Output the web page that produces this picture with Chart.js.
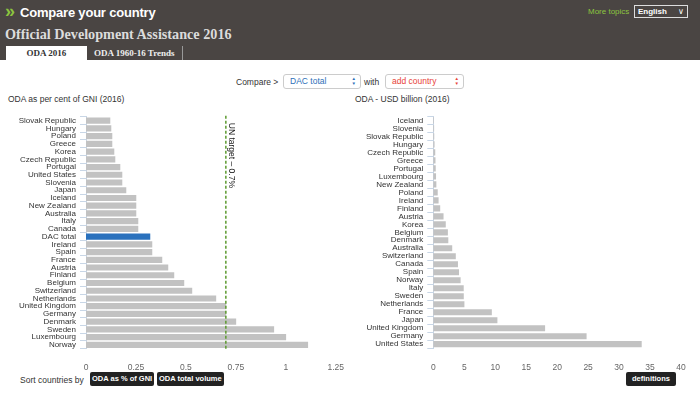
<!DOCTYPE html>
<html>
<head>
<meta charset="utf-8">
<script src="https://cdn.jsdelivr.net/npm/chart.js@4.4.0/dist/chart.umd.min.js"></script>
<style>
body { margin:0; width:700px; height:396px; position:relative; overflow:hidden; background:#fff; font-family:"Liberation Sans", Arial, sans-serif; }
.abs { position:absolute; }
#header { left:0; top:0; width:700px; height:60px; background:#4a4543; }
#logo { left:5px; top:1px; color:#8cc43f; font-weight:bold; font-size:18px; letter-spacing:-3px; }
#brand { left:20px; top:5px; color:#fff; font-weight:bold; font-size:13px; letter-spacing:-0.2px; }
#more { left:588px; top:7px; color:#8cc43f; font-size:8px; }
#lang { left:634px; top:5px; width:54px; height:13px; border:1px solid #ddd; color:#fff; font-size:8px; font-weight:bold; line-height:11px; padding-left:3px; box-sizing:border-box; }
#lang span { position:absolute; right:3px; top:0; font-weight:normal; }
#title { left:5px; top:26px; color:#dcdcdc; font-family:"Liberation Serif", serif; font-weight:bold; font-size:14.2px; }
#tab1 { left:6px; top:46px; width:81px; height:14px; background:#fff; color:#333; font-family:"Liberation Serif", serif; font-weight:bold; font-size:9px; text-align:center; line-height:15px; }
#tab2 { left:94px; top:46px; color:#eee; font-family:"Liberation Serif", serif; font-weight:bold; font-size:9px; line-height:15px; }
#sep { left:182px; top:46px; width:1px; height:14px; background:#999; }
.lbl { font-size:8.5px; color:#333; }
.sel { height:15px; border:1px solid #ccc; border-radius:3px; font-size:8.5px; line-height:13px; padding-left:6px; box-sizing:border-box; background:#fff; }
.sel i { position:absolute; right:4px; top:2px; font-style:normal; font-size:4.5px; line-height:4.5px; }
.btn { background:#222; color:#fff; font-weight:bold; font-size:7.5px; height:14px; line-height:14px; padding:0 2px; border-radius:2px; }
canvas { position:absolute; }
</style>
</head>
<body>
<div id="header" class="abs"></div>
<div id="logo" class="abs">&#187;</div>
<div id="brand" class="abs">Compare your country</div>
<div id="more" class="abs">More topics</div>
<div id="lang" class="abs">English<span>&#8744;</span></div>
<div id="title" class="abs">Official Development Assistance 2016</div>
<div id="tab1" class="abs">ODA 2016</div>
<div id="tab2" class="abs">ODA 1960-16 Trends</div>
<div id="sep" class="abs"></div>

<div class="abs lbl" style="left:236px;top:77px;">Compare &gt;</div>
<div class="abs sel" style="left:283px;top:74px;width:78px;color:#2d6fb8;">DAC total<i style="color:#2d6fb8">&#9650;<br>&#9660;</i></div>
<div class="abs lbl" style="left:364px;top:77px;">with</div>
<div class="abs sel" style="left:385px;top:74px;width:79px;color:#e8443a;">add country<i style="color:#e8443a">&#9650;<br>&#9660;</i></div>

<div class="abs lbl" style="left:8px;top:94px;">ODA as per cent of GNI (2016)</div>
<div class="abs lbl" style="left:355px;top:94px;">ODA - USD billion (2016)</div>

<canvas id="gniChart" width="350" height="265" style="left:0;top:105px;"></canvas>
<canvas id="volChart" width="350" height="265" style="left:350px;top:105px;"></canvas>

<div class="abs lbl" style="left:20px;top:375px;">Sort countries by</div>
<div class="abs btn" style="left:90px;top:372px;">ODA as % of GNI</div>
<div class="abs btn" style="left:157px;top:372px;">ODA total volume</div>
<div class="abs btn" style="left:626px;top:372px;padding:0 6px;">definitions</div>

<script>
// ODA as % of GNI, sorted ascending
const gniCountries = ['Slovak Republic', 'Hungary', 'Poland', 'Greece', 'Korea', 'Czech Republic', 'Portugal',
    'United States', 'Slovenia', 'Japan', 'Iceland', 'New Zealand', 'Australia', 'Italy', 'Canada', 'DAC total',
    'Ireland', 'Spain', 'France', 'Austria', 'Finland', 'Belgium', 'Switzerland', 'Netherlands', 'United Kingdom',
    'Germany', 'Denmark', 'Sweden', 'Luxembourg', 'Norway'];
const gniValues = [0.12, 0.125, 0.13, 0.13, 0.14, 0.145, 0.17, 0.18, 0.18, 0.20, 0.25, 0.25, 0.25, 0.26, 0.26, 0.32,
    0.33, 0.33, 0.38, 0.41, 0.44, 0.49, 0.53, 0.65, 0.70, 0.70, 0.75, 0.94, 1.00, 1.11];
const gniTicks = [0, 0.25, 0.5, 0.75, 1, 1.25];
const unTarget = 0.7;

// ODA volume in USD billion, sorted ascending
const volCountries = ['Iceland', 'Slovenia', 'Slovak Republic', 'Hungary', 'Czech Republic', 'Greece', 'Portugal',
    'Luxembourg', 'New Zealand', 'Poland', 'Ireland', 'Finland', 'Austria', 'Korea', 'Belgium', 'Denmark',
    'Australia', 'Switzerland', 'Canada', 'Spain', 'Norway', 'Italy', 'Sweden', 'Netherlands', 'France', 'Japan',
    'United Kingdom', 'Germany', 'United States'];
const volValues = [0.06, 0.08, 0.1, 0.15, 0.26, 0.3, 0.34, 0.39, 0.44, 0.66, 0.8, 1.06, 1.6, 1.96, 2.3, 2.37,
    3.0, 3.58, 3.93, 4.1, 4.36, 4.86, 4.87, 4.97, 9.4, 10.3, 18.0, 24.7, 33.6];
const volTicks = [0, 5, 10, 15, 20, 25, 30, 35, 40];

const grey = '#c2c2c2';
const blue = '#2a71bd';
const font = 'Liberation Sans';

// draws the dashed UN target line and its label
const unLine = {
    id: 'unLine',
    afterDatasetsDraw(chart) {
        const { ctx, chartArea, scales } = chart;
        const px = scales.x.getPixelForValue(unTarget);
        ctx.save();
        ctx.strokeStyle = '#5c9a2f';
        ctx.lineWidth = 1.5;
        ctx.setLineDash([3, 2]);
        ctx.beginPath();
        ctx.moveTo(px, chartArea.top - 1);
        ctx.lineTo(px, chartArea.bottom);
        ctx.stroke();
        ctx.setLineDash([]);
        ctx.translate(px + 5.5, chartArea.top + 6);
        ctx.rotate(Math.PI / 2);
        ctx.fillStyle = '#222';
        ctx.font = '8.5px "' + font + '"';
        ctx.textBaseline = 'middle';
        ctx.fillText('UN target \u2013 0.7%', 0, 0);
        ctx.restore();
    }
};

function makeChart(id, labels, values, colors, ticks, max, yWidth, padTop, padRight, xHeight, plugins) {
    return new Chart(document.getElementById(id), {
        type: 'bar',
        data: {
            labels: labels,
            datasets: [{ data: values, backgroundColor: colors, barThickness: 5.5 }]
        },
        options: {
            indexAxis: 'y',
            responsive: false,
            animation: false,
            layout: { padding: { top: padTop, right: padRight, left: 0, bottom: 0 } },
            plugins: { legend: { display: false }, tooltip: { enabled: false } },
            scales: {
                x: {
                    min: 0,
                    max: max,
                    afterBuildTicks: s => { s.ticks = ticks.map(v => ({ value: v })); },
                    afterFit: s => { s.height = xHeight; },
                    grid: { display: false },
                    border: { display: false },
                    ticks: {
                        color: '#666', padding: 6, font: { family: font, size: 8.5 },
                        callback: v => String(v)
                    }
                },
                y: {
                    afterFit: s => { s.width = yWidth; },
                    grid: { drawOnChartArea: false, color: '#c8d6e6', tickLength: 6 },
                    border: { display: true, color: '#c8d6e6' },
                    ticks: { color: '#333', padding: 4, autoSkip: false, font: { family: font, size: 8 } }
                }
            }
        },
        plugins: plugins
    });
}

makeChart('gniChart', gniCountries, gniValues,
    gniCountries.map(c => c === 'DAC total' ? blue : grey),
    gniTicks, 1.25, 86, 11.8, 13, 21.3, [unLine]);

makeChart('volChart', volCountries, volValues, grey,
    volTicks, 40, 83.3, 11.4, 19, 21.8, []);
</script>
</body>
</html>
